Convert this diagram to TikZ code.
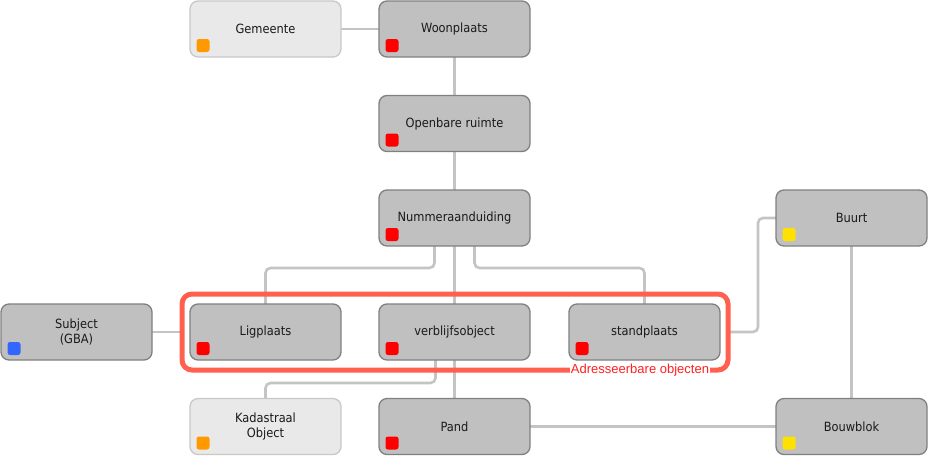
\documentclass[tikz,border=0pt]{standalone}
\usepackage{fontspec}
\setmainfont{DejaVu Sans Condensed}
\newfontfamily\labelfont{Liberation Sans}
\definecolor{boxfill}{HTML}{C0C0C0}
\definecolor{boxline}{HTML}{808080}
\definecolor{lightfill}{HTML}{E9E9E9}
\definecolor{lightline}{HTML}{C8C8C8}
\definecolor{connc}{HTML}{C4C4C4}
\definecolor{grpred}{HTML}{FF6050}
\definecolor{lblred}{HTML}{FF2020}
\definecolor{sqred}{HTML}{FF0000}
\definecolor{sqorange}{HTML}{FF9900}
\definecolor{sqyellow}{HTML}{FFE100}
\definecolor{sqblue}{HTML}{3366FF}
\definecolor{txt}{HTML}{1A1A1A}
\tikzset{
  objbox/.style={rectangle, rounded corners=8pt, draw=boxline, fill=boxfill, line width=1.3pt,
    minimum width=151pt, minimum height=56pt, inner sep=0pt, outer sep=0pt,
    font=\fontsize{12.7}{15.5}\selectfont, text=txt, align=center},
  lightbox/.style={objbox, draw=lightline, fill=lightfill},
  sq/.style={rectangle, rounded corners=2.5pt, minimum size=13pt, inner sep=0pt},
  conn/.style={draw=connc, line width=2.6pt, rounded corners=5pt},
  grp/.style={rectangle, rounded corners=10pt, draw=grpred, line width=5pt,
    minimum width=546pt, minimum height=76pt, outer sep=0pt, inner sep=0pt},
}
\begin{document}
\begin{tikzpicture}[x=1pt, y=-1pt]
\useasboundingbox (0,0) rectangle (929,456);
% invisible placeholders used for routing the connectors
\node[objbox, draw=none, fill=none] (gem) at (265.5,29) {};
\node[objbox, draw=none, fill=none] (woon) at (454.5,29) {};
\node[objbox, draw=none, fill=none] (open) at (454.5,123.5) {};
\node[objbox, draw=none, fill=none] (num) at (454.5,218) {};
\node[objbox, draw=none, fill=none] (lig) at (265.5,332) {};
\node[objbox, draw=none, fill=none] (verb) at (454.5,332) {};
\node[objbox, draw=none, fill=none] (stand) at (644.5,332) {};
\node[objbox, draw=none, fill=none] (subj) at (76.5,332) {};
\node[objbox, draw=none, fill=none] (buurt) at (851.5,218) {};
\node[objbox, draw=none, fill=none] (kad) at (265.5,426.5) {};
\node[objbox, draw=none, fill=none] (pand) at (454.5,426.5) {};
\node[objbox, draw=none, fill=none] (bouw) at (851.5,426.5) {};
\node[grp, draw=none] (grpbox) at (455,332) {};
% connectors
\draw[conn] (gem) -- (woon);
\draw[conn] (woon) -- (open);
\draw[conn] (open) -- (num);
\draw[conn] ([xshift=-20pt]num.south) -- ++(0,22) -| (lig.north);
\draw[conn] (num) -- (verb);
\draw[conn] ([xshift=20pt]num.south) -- ++(0,22) -| (stand.north);
\draw[conn] (subj.east) -- (grpbox.west);
\draw[conn] (grpbox.east) -- ++(30,0) |- (buurt.west);
\draw[conn] (buurt) -- (bouw);
\draw[conn] (pand) -- (bouw);
\draw[conn] ([xshift=-19pt]verb.south) -- ++(0,23) -| (kad.north);
\draw[conn] (verb) -- (pand);
% group box
\node[grp] (grpv) at (grpbox) {};
\node[fill=white, inner sep=1pt, font=\labelfont\fontsize{13}{14}\selectfont, text=lblred] (grplabel)
  at ([xshift=185pt]grpbox.south) {Adresseerbare objecten};
% visible boxes
\node[lightbox] (gemv) at (gem) {Gemeente};
\node[objbox] (woonv) at (woon) {Woonplaats};
\node[objbox] (openv) at (open) {Openbare ruimte};
\node[objbox] (numv) at (num) {Nummeraanduiding};
\node[objbox] (ligv) at (lig) {Ligplaats};
\node[objbox] (verbv) at (verb) {verblijfsobject};
\node[objbox] (standv) at (stand) {standplaats};
\node[objbox] (subjv) at (subj) {Subject\\(GBA)};
\node[objbox] (buurtv) at (buurt) {Buurt};
\node[lightbox] (kadv) at (kad) {Kadastraal\\Object};
\node[objbox] (pandv) at (pand) {Pand};
\node[objbox] (bouwv) at (bouw) {Bouwblok};
% colour markers
\node[sq, fill=sqorange] (m1) at ([shift={(13,-11.5)}]gem.south west) {};
\node[sq, fill=sqred] (m2) at ([shift={(13,-11.5)}]woon.south west) {};
\node[sq, fill=sqred] (m3) at ([shift={(13,-11.5)}]open.south west) {};
\node[sq, fill=sqred] (m4) at ([shift={(13,-11.5)}]num.south west) {};
\node[sq, fill=sqred] (m5) at ([shift={(13,-11.5)}]lig.south west) {};
\node[sq, fill=sqred] (m6) at ([shift={(13,-11.5)}]verb.south west) {};
\node[sq, fill=sqred] (m7) at ([shift={(13,-11.5)}]stand.south west) {};
\node[sq, fill=sqblue] (m8) at ([shift={(13,-11.5)}]subj.south west) {};
\node[sq, fill=sqyellow] (m9) at ([shift={(13,-11.5)}]buurt.south west) {};
\node[sq, fill=sqorange] (m10) at ([shift={(13,-11.5)}]kad.south west) {};
\node[sq, fill=sqred] (m11) at ([shift={(13,-11.5)}]pand.south west) {};
\node[sq, fill=sqyellow] (m12) at ([shift={(13,-11.5)}]bouw.south west) {};
\end{tikzpicture}
\end{document}
